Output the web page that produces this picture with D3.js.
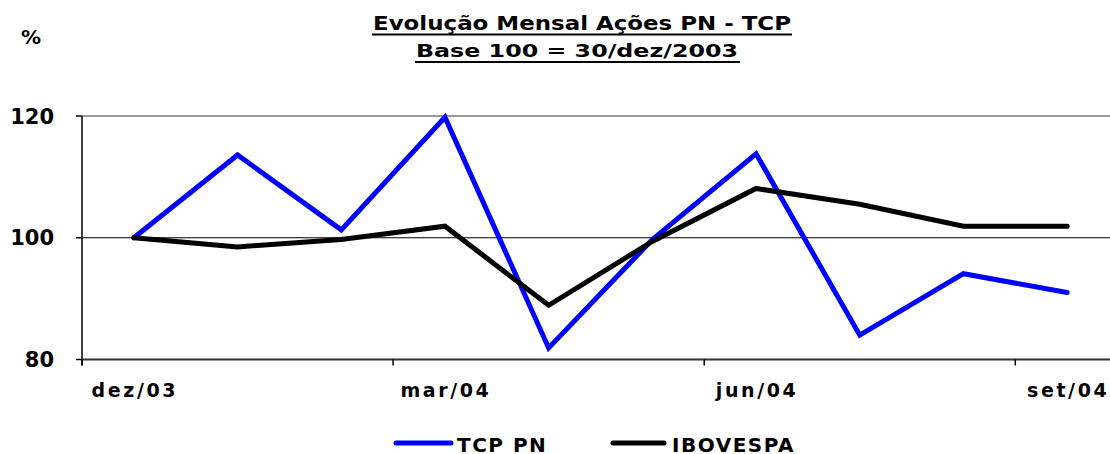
<!DOCTYPE html>
<html>
<head>
<meta charset="utf-8">
<title>Evolução Mensal Ações PN - TCP</title>
<script src="https://d3js.org/d3.v7.min.js"></script>
<style>
  body { margin: 0; background: #fff; }
  text { font-family: "DejaVu Sans", Verdana, sans-serif; font-weight: bold; fill: #000; }
</style>
</head>
<body>
<script>
// data
var months = ["dez/03", "jan/04", "fev/04", "mar/04", "abr/04", "mai/04", "jun/04", "jul/04", "ago/04", "set/04"];
var tcpPN = [100, 113.6, 101.3, 119.8, 81.9, 99.7, 113.8, 84.0, 94.1, 91.0];
var ibovespa = [100, 98.5, 99.7, 101.9, 88.9, 99.4, 108.1, 105.5, 101.9, 101.9];
var yTicks = [80, 100, 120];
var shownLabels = ["dez/03", "mar/04", "jun/04", "set/04"];

var width = 1110, height = 454;
var plotLeft = 82, plotRight = 1119, plotTop = 116, plotBottom = 359.5;

var svg = d3.select("body").append("svg")
    .attr("width", width)
    .attr("height", height);

var x = d3.scalePoint().domain(months).range([plotLeft, plotRight]).padding(0.5);
var step = x.step();
var y = d3.scaleLinear().domain([80, 120]).range([plotBottom, plotTop]);

// titles
svg.append("text")
    .attr("x", 373).attr("y", 30)
    .attr("textLength", 418).attr("lengthAdjust", "spacingAndGlyphs")
    .style("font-size", "20px")
    .text("Evolução Mensal Ações PN - TCP");
svg.append("line")
    .attr("x1", 372).attr("x2", 792).attr("y1", 34.5).attr("y2", 34.5)
    .attr("stroke", "#000").attr("stroke-width", 2);

svg.append("text")
    .attr("x", 416).attr("y", 57)
    .attr("textLength", 322).attr("lengthAdjust", "spacingAndGlyphs")
    .style("font-size", "17px")
    .text("Base 100 = 30/dez/2003");
svg.append("line")
    .attr("x1", 415).attr("x2", 740).attr("y1", 62).attr("y2", 62)
    .attr("stroke", "#000").attr("stroke-width", 2);

svg.append("text")
    .attr("x", 21).attr("y", 44)
    .style("font-size", "20px")
    .text("%");

// grid lines
svg.append("line")
    .attr("x1", plotLeft).attr("x2", width).attr("y1", y(120)).attr("y2", y(120))
    .attr("stroke", "#999").attr("stroke-width", 2);
svg.append("line")
    .attr("x1", plotLeft).attr("x2", width).attr("y1", y(100)).attr("y2", y(100))
    .attr("stroke", "#000").attr("stroke-width", 1);

// y axis
svg.append("line")
    .attr("x1", plotLeft).attr("x2", plotLeft).attr("y1", plotTop).attr("y2", plotBottom + 6)
    .attr("stroke", "#000").attr("stroke-width", 1.5);
svg.selectAll(".ytick")
    .data(yTicks)
  .enter().append("line")
    .attr("class", "ytick")
    .attr("x1", plotLeft - 6).attr("x2", plotLeft)
    .attr("y1", function(d) { return y(d); })
    .attr("y2", function(d) { return y(d); })
    .attr("stroke", "#000").attr("stroke-width", 1.5);
svg.selectAll(".ylabel")
    .data(yTicks)
  .enter().append("text")
    .attr("class", "ylabel")
    .attr("x", 54)
    .attr("y", function(d) { return y(d); })
    .attr("dy", "0.36em")
    .attr("text-anchor", "end")
    .style("font-size", "21px")
    .text(function(d) { return d; });

// x axis
svg.append("line")
    .attr("x1", plotLeft).attr("x2", width).attr("y1", plotBottom).attr("y2", plotBottom)
    .attr("stroke", "#333").attr("stroke-width", 2);

var tickPositions = months.filter(function(d, i) { return i % 3 === 0; })
    .map(function(d) { return x(d) - step / 2; });
svg.selectAll(".xtick")
    .data(tickPositions)
  .enter().append("line")
    .attr("class", "xtick")
    .attr("x1", function(d) { return d; })
    .attr("x2", function(d) { return d; })
    .attr("y1", plotBottom).attr("y2", plotBottom + 6)
    .attr("stroke", "#000").attr("stroke-width", 1.5);

svg.selectAll(".xlabel")
    .data(shownLabels)
  .enter().append("text")
    .attr("class", "xlabel")
    .attr("x", function(d) { return x(d) + 1; })
    .attr("y", 397)
    .attr("text-anchor", "middle")
    .style("font-size", "19px")
    .style("letter-spacing", "2.6px")
    .text(function(d) { return d; });

// series
var line = d3.line()
    .x(function(d, i) { return x(months[i]); })
    .y(function(d) { return y(d); });

svg.append("path")
    .datum(tcpPN)
    .attr("d", line)
    .attr("fill", "none")
    .attr("stroke", "#0000ff")
    .attr("stroke-width", 5)
    .attr("stroke-linejoin", "miter")
    .attr("stroke-linecap", "round");

svg.append("path")
    .datum(ibovespa)
    .attr("d", line)
    .attr("fill", "none")
    .attr("stroke", "#000")
    .attr("stroke-width", 5)
    .attr("stroke-linejoin", "miter")
    .attr("stroke-linecap", "round");

// legend
var legend = [
  {name: "TCP PN", color: "#0000ff", x1: 396, x2: 451, tx: 457},
  {name: "IBOVESPA", color: "#000", x1: 613, x2: 664, tx: 672}
];
var lg = svg.selectAll(".legend")
    .data(legend)
  .enter().append("g")
    .attr("class", "legend");
lg.append("line")
    .attr("x1", function(d) { return d.x1; })
    .attr("x2", function(d) { return d.x2; })
    .attr("y1", 443).attr("y2", 443)
    .attr("stroke", function(d) { return d.color; })
    .attr("stroke-width", 5)
    .attr("stroke-linecap", "round");
lg.append("text")
    .attr("x", function(d) { return d.tx; })
    .attr("y", 452)
    .style("font-size", "20px")
    .style("letter-spacing", "1.5px")
    .text(function(d) { return d.name; });
</script>
</body>
</html>
